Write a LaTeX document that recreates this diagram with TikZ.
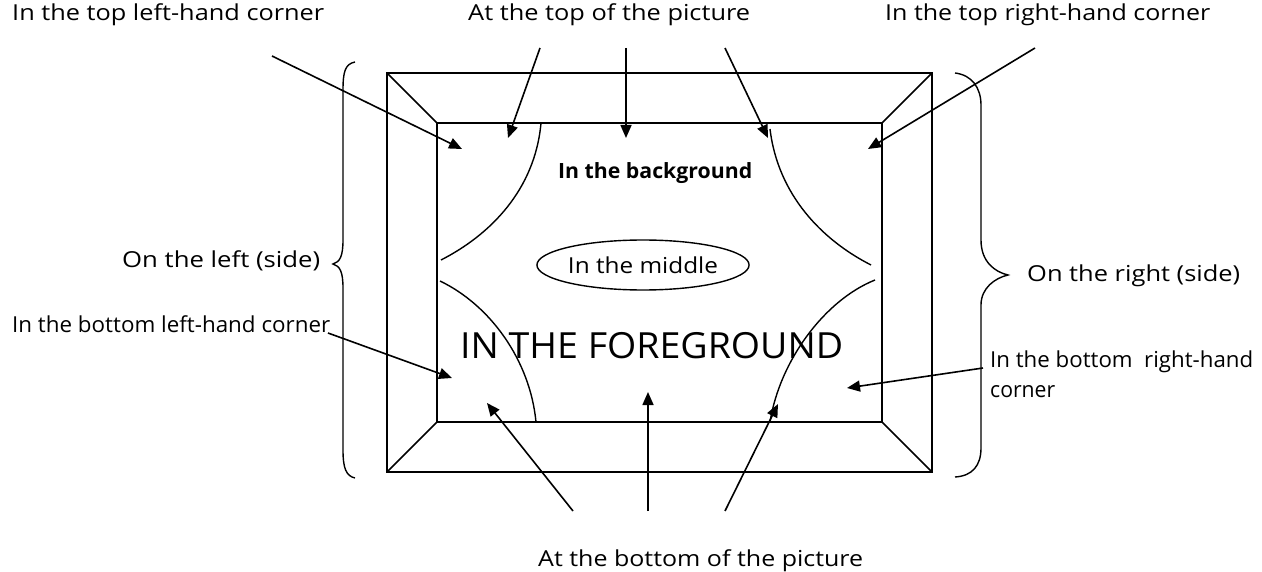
\documentclass[tikz,border=0pt]{standalone}
\usepackage{fontspec}
\setmainfont{Open Sans}
\usetikzlibrary{arrows.meta,shapes.geometric}
\begin{document}
\begin{tikzpicture}[x=1pt,y=-1pt,
  frame/.style={line width=1.6pt},
  arr/.style={line width=1.6pt,-{Triangle[length=13pt,width=11pt]}},
  lab/.style={anchor=base west,inner sep=0pt,font=\fontsize{22}{26}\selectfont},
  curv/.style={line width=1.4pt},
  brc/.style={line width=1.4pt}]
\useasboundingbox (0,0) rectangle (1262,572);
\fill[white] (0,0) rectangle (1262,572);
% frame
\coordinate (o1) at (387,73);  \coordinate (o2) at (932,73);
\coordinate (o3) at (932,472); \coordinate (o4) at (387,472);
\coordinate (i1) at (437,123); \coordinate (i2) at (882,123);
\coordinate (i3) at (882,422); \coordinate (i4) at (437,422);
\draw[frame] (o1) -- (o2) -- (o3) -- (o4) -- cycle;
\draw[frame] (i1) -- (i2) -- (i3) -- (i4) -- cycle;
\draw[frame] (o1) -- (i1) (o2) -- (i2) (o3) -- (i3) (o4) -- (i4);
% curves
\draw[curv] (541,123) .. controls (535,190) and (490,235) .. (441,260);
\draw[curv] (770,129) .. controls (778,195) and (822,240) .. (871,265);
\draw[curv] (440,281) .. controls (490,305) and (530,360) .. (536,422);
\draw[curv] (875,280) .. controls (825,300) and (780,360) .. (770,422);
% braces
\draw[brc] (355,62) .. controls (345,64) and (343,72) .. (343,90) -- (343,240)
  .. controls (343,256) and (340,262) .. (333,264)
  .. controls (340,266) and (343,272) .. (343,288) -- (343,450)
  .. controls (343,468) and (346,476) .. (355,478);
\draw[brc] (955,73) .. controls (972,75) and (981,88) .. (981,105) -- (981,240)
  .. controls (981,262) and (995,272) .. (1008,275)
  .. controls (995,278) and (981,288) .. (981,305) -- (981,448)
  .. controls (981,466) and (972,476) .. (955,477);
% inner texts
\node[anchor=base west,inner sep=0pt,font=\fontsize{21}{25}\selectfont\bfseries] (bg) at (558,179) {\resizebox{194pt}{\height}{In the background}};
\node[draw,ellipse,line width=1.4pt,inner sep=0pt,minimum width=207pt,minimum height=50pt,font=\fontsize{22}{26}\selectfont] (mid) at (643,265) {\resizebox{150pt}{\height}{In the middle}};
\node[anchor=base west,inner sep=0pt,font=\fontsize{36}{40}\selectfont] (fg) at (460,359) {\resizebox{383pt}{\height}{IN THE FOREGROUND}};
% outer labels
\node[lab] (tl) at (12,21) {\resizebox{312pt}{\height}{In the top left-hand corner}};
\node[lab] (top) at (468,21) {\resizebox{282pt}{\height}{At the top of the picture}};
\node[lab] (tr) at (885,21) {\resizebox{325pt}{\height}{In the top right-hand corner}};
\node[lab] (left) at (122,268) {\resizebox{198pt}{\height}{On the left (side)}};
\node[lab] (bl) at (12,332) {\resizebox{318pt}{\height}{In the bottom left-hand corner}};
\node[lab] (right) at (1027,282) {\resizebox{213pt}{\height}{On the right (side)}};
\node[lab] (br1) at (990,367) {\resizebox{263pt}{\height}{In the bottom\ \ right-hand}};
\node[lab] (br2) at (990,397) {\resizebox{65pt}{\height}{corner}};
\node[lab] (bot) at (538,566) {\resizebox{325pt}{\height}{At the bottom of the picture}};
% arrow ends
\coordinate (tlA) at (272,56);  \coordinate (tlB) at (462,149);
\coordinate (t1A) at (540,48);  \coordinate (t1B) at (508,138);
\coordinate (t2A) at (626,48);  \coordinate (t2B) at (626,138);
\coordinate (t3A) at (725,48);  \coordinate (t3B) at (768,138);
\coordinate (trA) at (1035,48); \coordinate (trB) at (868,149);
\coordinate (blA) at (328,333); \coordinate (blB) at (452,378);
\coordinate (brA) at (983,368); \coordinate (brB) at (847,388);
\coordinate (b1A) at (573,511); \coordinate (b1B) at (487,403);
\coordinate (b2A) at (648,511); \coordinate (b2B) at (648,392);
\coordinate (b3A) at (725,511); \coordinate (b3B) at (778,404);
\draw[arr] (tlA) -- (tlB);
\draw[arr] (t1A) -- (t1B);
\draw[arr] (t2A) -- (t2B);
\draw[arr] (t3A) -- (t3B);
\draw[arr] (trA) -- (trB);
\draw[arr] (blA) -- (blB);
\draw[arr] (brA) -- (brB);
\draw[arr] (b1A) -- (b1B);
\draw[arr] (b2A) -- (b2B);
\draw[arr] (b3A) -- (b3B);
\end{tikzpicture}
\end{document}
